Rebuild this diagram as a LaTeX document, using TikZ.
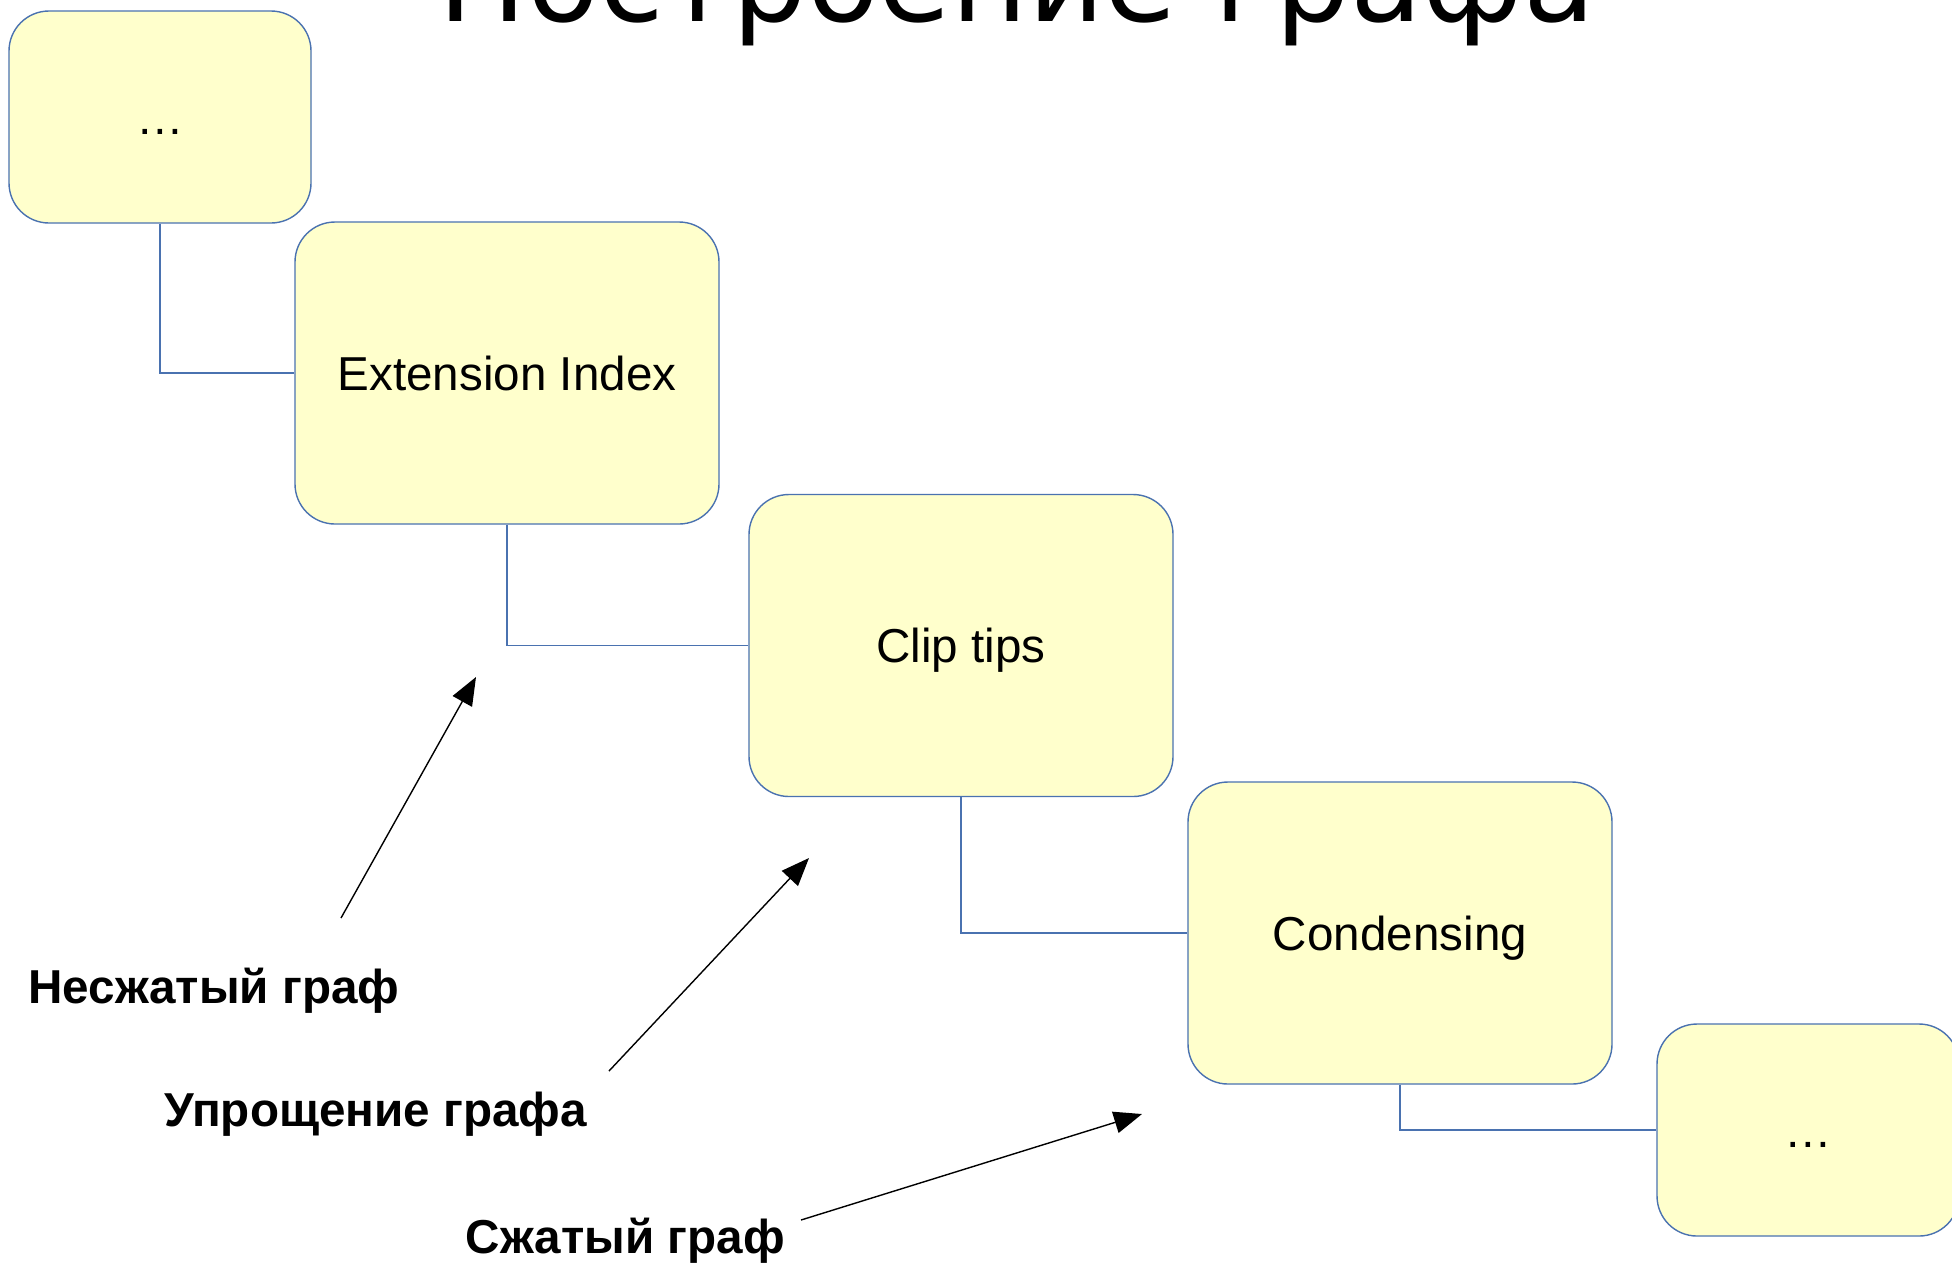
\documentclass[tikz,border=0pt]{standalone}
\usepackage{fontspec}
\setmainfont{Liberation Sans}
\newfontfamily\titlefont{DejaVu Sans}
\usetikzlibrary{arrows.meta}
\definecolor{boxfill}{HTML}{FFFFCC}
\definecolor{boxline}{HTML}{4A72B0}
\tikzset{
  stepbox/.style={draw=boxline, line width=0.7pt, fill=boxfill, rounded corners=20pt,
    inner sep=0pt, text height=17pt, text depth=0pt,
    font=\fontsize{23.8}{28}\selectfont},
  bigbox/.style={stepbox, minimum width=212pt, minimum height=151pt},
  smallbox/.style={stepbox, minimum width=151pt, minimum height=106pt},
  conn/.style={draw=boxline, line width=0.7pt},
  pointer/.style={draw=black, line width=0.7pt, -{Triangle[length=14pt,width=11pt]}},
  lab/.style={anchor=base west, inner sep=0pt, font=\fontsize{23.8}{28}\selectfont\bfseries}
}
\begin{document}
\begin{tikzpicture}[x=0.5pt,y=-0.5pt]
\useasboundingbox (0,0) rectangle (1952,1271);
\clip (0,0) rectangle (1952,1271);
\fill[white] (0,0) rectangle (1952,1271);
\node[anchor=base, inner sep=0pt, font=\titlefont\fontsize{58.8}{70}\selectfont] (title) at (1017,21) {Построение графа};
\node[smallbox] (b1) at (160,117) {…};
\node[bigbox] (b2) at (507,373) {Extension Index};
\node[bigbox] (b3) at (961,645.5) {Clip tips};
\node[bigbox] (b4) at (1400,933) {Condensing};
\node[smallbox] (b5) at (1808,1130) {…};
\draw[conn] (b1.south) |- (b2.west);
\draw[conn] (b2.south) |- (b3.west);
\draw[conn] (b3.south) |- (b4.west);
\draw[conn] (b4.south) |- (b5.west);
\node[lab] (l1) at (28,1003) {Несжатый граф};
\node[lab] (l2) at (164,1126) {Упрощение графа};
\node[lab] (l3) at (465,1253) {Сжатый граф};
\coordinate (a1s) at (341,918);
\coordinate (a1e) at (476,677);
\coordinate (a2s) at (609,1071);
\coordinate (a2e) at (809,858);
\coordinate (a3s) at (801,1220);
\coordinate (a3e) at (1142,1114);
\draw[pointer] (a1s) -- (a1e);
\draw[pointer] (a2s) -- (a2e);
\draw[pointer] (a3s) -- (a3e);
\end{tikzpicture}
\end{document}
